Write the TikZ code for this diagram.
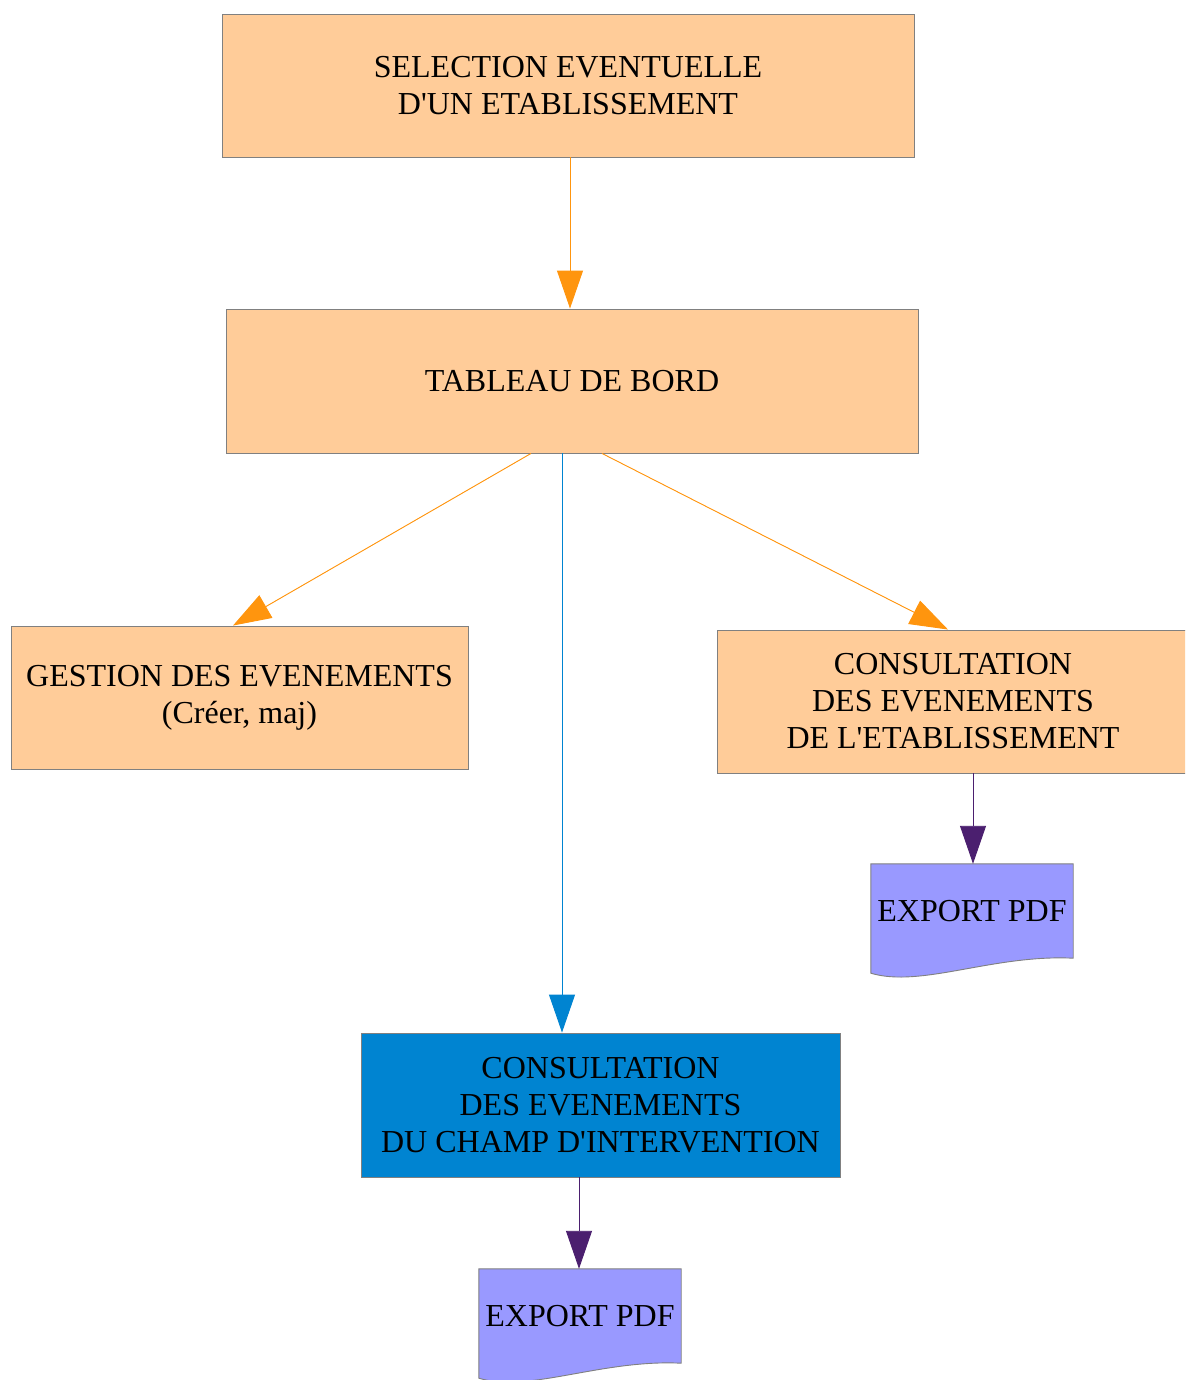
\documentclass[tikz,border=0pt]{standalone}
\usepackage{fontspec}
\setmainfont{Liberation Serif}[Ligatures=TeXOff]
\usetikzlibrary{arrows.meta,calc}
\definecolor{boxorange}{HTML}{FFCC99}
\definecolor{linorange}{HTML}{FF950E}
\definecolor{boxblue}{HTML}{0084D1}
\definecolor{boxpurple}{HTML}{9999FF}
\definecolor{linpurple}{HTML}{4B1F6F}
\definecolor{edgegray}{HTML}{808080}
\tikzset{
  box/.style={draw=edgegray, line width=0.9pt, fill=boxorange, align=center,
    font=\fontsize{32}{37}\selectfont, inner sep=0pt},
  docnode/.style={inner sep=0pt, minimum width=202pt, minimum height=94pt,
    font=\fontsize{32}{37}\selectfont},
  docshape/.style={draw=edgegray, line width=0.9pt, fill=boxpurple},
  arr/.style={line width=0.9pt, -{Triangle[width=26pt,length=38pt]}},
  orangearr/.style={arr, draw=linorange, fill=linorange},
  bluearr/.style={arr, draw=boxblue, fill=boxblue},
  purplearr/.style={arr, draw=linpurple, fill=linpurple},
}
\begin{document}
\begin{tikzpicture}[x=1pt,y=-1pt]
\useasboundingbox (0,0) rectangle (1185,1380);
\clip (0,0) rectangle (1185,1380);
\fill[white] (0,0) rectangle (1185,1380);

\node[box, minimum width=692pt, minimum height=143pt] (b1) at (568,85.5)
  {SELECTION EVENTUELLE\\ D'UN ETABLISSEMENT};
\node[box, minimum width=692pt, minimum height=144pt] (b2) at (572,381)
  {TABLEAU DE BORD};
\node[box, minimum width=457pt, minimum height=143pt] (b3) at (239.5,697.5)
  {GESTION DES EVENEMENTS\\(Créer, maj)};
\node[box, minimum width=472pt, minimum height=143pt] (b4) at (953,701.5)
  {CONSULTATION\\ DES EVENEMENTS\\ DE L'ETABLISSEMENT};
\node[box, fill=boxblue, minimum width=479pt, minimum height=144pt] (b5) at (600.5,1105)
  {CONSULTATION\\ DES EVENEMENTS\\ DU CHAMP D'INTERVENTION};

% document shapes
\node[docnode] (d1) at (972,911) {};
\draw[docshape] (d1.south east) -- (d1.north east) -- (d1.north west)
  -- ([yshift=-15pt]d1.south west)
  .. controls ([xshift=50pt,yshift=-30pt]d1.south west) and ([xshift=-80pt,yshift=4pt]d1.south east) .. (d1.south east) -- cycle;
\node[docnode] at (d1) {EXPORT PDF};

\node[docnode] (d2) at (580,1316) {};
\draw[docshape] (d2.south east) -- (d2.north east) -- (d2.north west)
  -- ([yshift=-15pt]d2.south west)
  .. controls ([xshift=50pt,yshift=-30pt]d2.south west) and ([xshift=-80pt,yshift=4pt]d2.south east) .. (d2.south east) -- cycle;
\node[docnode] at (d2) {EXPORT PDF};

% connectors
\draw[orangearr] ([xshift=2pt]b1.south) -- ([xshift=-2pt]b2.north);
\draw[orangearr] ([xshift=-41pt]b2.south) -- ([xshift=-6.5pt]b3.north);
\draw[orangearr] ([xshift=30pt]b2.south) -- ([xshift=-5pt]b4.north);
\draw[bluearr] ([xshift=-10pt]b2.south) -- ([xshift=-38.5pt]b5.north);
\draw[purplearr] ([xshift=20pt]b4.south) -- ([xshift=1pt]d1.north);
\draw[purplearr] ([xshift=-21.5pt]b5.south) -- ([xshift=-1pt]d2.north);
\end{tikzpicture}
\end{document}
